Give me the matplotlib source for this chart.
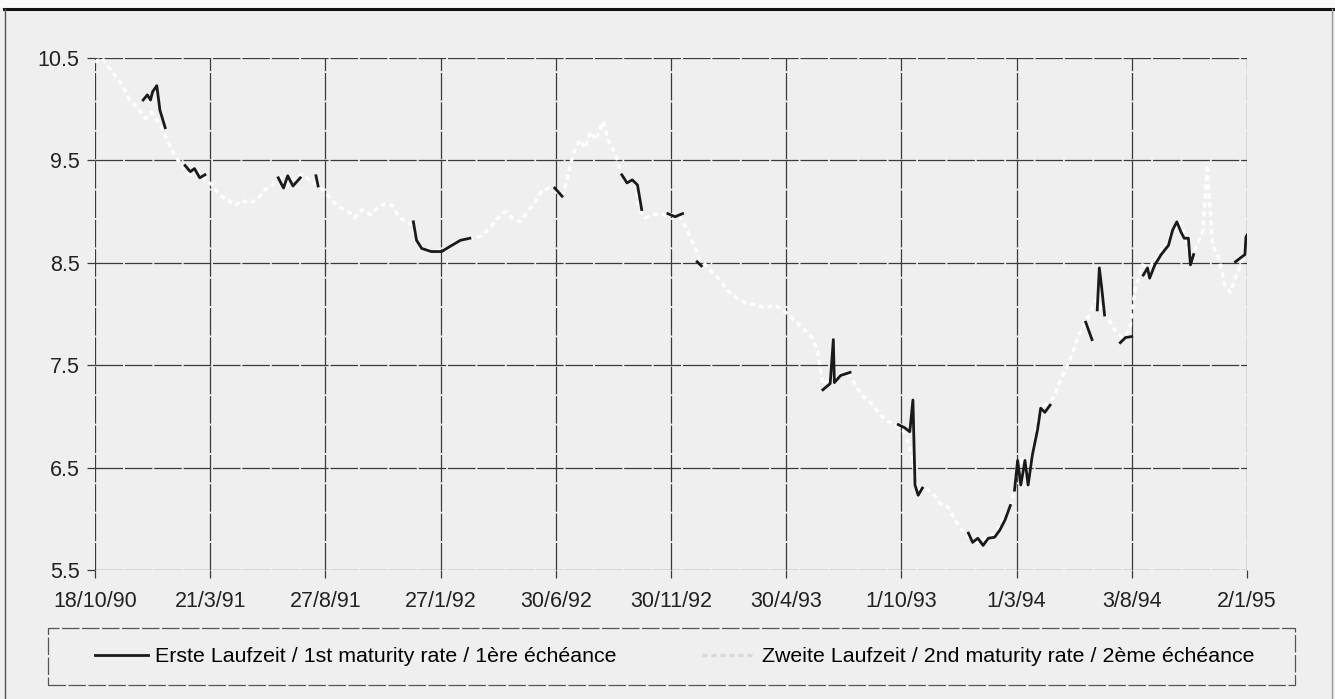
import numpy as np
import matplotlib
matplotlib.use("Agg")
import matplotlib.pyplot as plt
from matplotlib.lines import Line2D
from matplotlib.patches import Rectangle

plt.rcParams["font.family"] = ["Liberation Sans", "DejaVu Sans"]

# x axis: trading-day index from 18/10/90 (0) to 2/1/95 (1100)
tick_days = [0, 110, 220, 330, 440, 550, 660, 770, 880, 990, 1100]
tick_labels = ["18/10/90", "21/3/91", "27/8/91", "27/1/92", "30/6/92", "30/11/92",
               "30/4/93", "1/10/93", "1/3/94", "3/8/94", "2/1/95"]
y_ticks = [5.5, 6.5, 7.5, 8.5, 9.5, 10.5]

# second maturity rate (full series)
day_2nd = [0, 7, 12, 19, 26, 33, 41, 48, 54, 62, 69, 76, 83, 91, 98, 105, 112, 119,
           127, 134, 140, 148, 156, 162, 169, 177, 184, 191, 198, 205, 213, 220, 226,
           234, 242, 248, 255, 263, 270, 277, 284, 289, 296, 303, 308, 315, 325, 334,
           344, 353, 363, 370, 377, 385, 392, 398, 406, 413, 420, 427, 434, 441, 447,
           454, 458, 463, 468, 473, 478, 485, 490, 495, 499, 503, 509, 516, 520, 525,
           532, 540, 547, 554, 561, 566, 572, 578, 583, 589, 597, 604, 612, 621, 630,
           640, 649, 659, 668, 678, 685, 690, 695, 702, 709, 719, 726, 732, 740, 748,
           755, 764, 773, 780, 785, 793, 800, 807, 815, 821, 828, 836, 843, 850, 857,
           864, 870, 876, 880, 885, 891, 896, 900, 907, 914, 920, 926, 933, 939, 945,
           951, 956, 962, 967, 974, 981, 988, 993, 1000, 1007, 1015, 1022, 1029, 1035,
           1041, 1046, 1052, 1058, 1062, 1067, 1073, 1079, 1084, 1090, 1095, 1100]
rate_2nd = [10.46, 10.50, 10.42, 10.33, 10.24, 10.09, 10.01, 9.91, 9.97, 9.85, 9.70,
            9.55, 9.45, 9.36, 9.39, 9.31, 9.26, 9.16, 9.11, 9.06, 9.11, 9.08, 9.13,
            9.21, 9.26, 9.33, 9.26, 9.33, 9.36, 9.31, 9.26, 9.19, 9.11, 9.04, 9.00,
            8.94, 9.02, 8.97, 9.04, 9.08, 9.06, 8.97, 8.90, 8.87, 8.67, 8.63, 8.61,
            8.63, 8.70, 8.74, 8.74, 8.77, 8.84, 8.94, 9.00, 8.94, 8.90, 9.00, 9.09,
            9.21, 9.23, 9.19, 9.16, 9.46, 9.60, 9.70, 9.62, 9.78, 9.70, 9.88, 9.70,
            9.60, 9.50, 9.36, 9.29, 9.26, 9.02, 8.94, 8.97, 8.98, 8.96, 8.98, 8.92,
            8.80, 8.67, 8.53, 8.48, 8.41, 8.33, 8.23, 8.16, 8.11, 8.09, 8.06, 8.09,
            8.02, 7.94, 7.84, 7.77, 7.63, 7.31, 7.38, 7.40, 7.43, 7.31, 7.21, 7.14,
            7.04, 6.96, 6.92, 6.85, 6.62, 6.28, 6.30, 6.25, 6.15, 6.11, 5.99, 5.89,
            5.81, 5.77, 5.81, 5.84, 5.94, 6.04, 6.18, 6.48, 6.57, 6.43, 6.67, 6.96,
            7.11, 7.16, 7.31, 7.45, 7.60, 7.79, 7.89, 8.04, 8.14, 8.04, 7.96, 7.84,
            7.77, 7.84, 8.23, 8.48, 8.45, 8.58, 8.67, 8.80, 8.90, 8.77, 8.51, 8.67,
            8.82, 9.46, 8.67, 8.55, 8.28, 8.21, 8.38, 8.51, 8.58]

# first maturity rate, only the stretches where it departs from the second
nan = np.nan
day_1st = [46, 50, 53, 55, 59, 62, 67, nan,
           86, 91, 95, 100, 105, nan,
           175, 180, 184, 189, 196, nan,
           211, 213, nan,
           304, 307, 312, 321, 331, 339, 349, 358, nan,
           439, 446, nan,
           503, 508, 513, 518, 522, nan,
           547, 554, 561, nan,
           575, 579, nan,
           695, 702, 705, 706, 712, 721, nan,
           767, 773, 778, 781, 783, 786, 790, nan,
           834, 838, 843, 848, 853, 859, 864, 869, 874, nan,
           878, 881, 884, 888, 891, 895, 900, 903, 907, 912, nan,
           946, 952, nan,
           957, 959, 961, 964, nan,
           979, 984, 990, nan,
           1001, 1005, 1007, 1012, 1018, 1025, 1029, 1033, 1037, 1040, 1044, 1046, 1049, nan,
           1089, 1094, 1098, 1099, 1100]
rate_1st = [10.09, 10.14, 10.09, 10.17, 10.23, 9.99, 9.82, nan,
            9.45, 9.39, 9.42, 9.33, 9.36, nan,
            9.33, 9.23, 9.35, 9.25, 9.33, nan,
            9.35, 9.25, nan,
            8.90, 8.72, 8.64, 8.61, 8.61, 8.66, 8.72, 8.74, nan,
            9.23, 9.15, nan,
            9.36, 9.28, 9.31, 9.26, 9.02, nan,
            8.98, 8.95, 8.98, nan,
            8.51, 8.47, nan,
            7.26, 7.32, 7.75, 7.33, 7.40, 7.43, nan,
            6.92, 6.89, 6.85, 7.16, 6.33, 6.23, 6.30, nan,
            5.86, 5.77, 5.81, 5.74, 5.81, 5.82, 5.89, 5.99, 6.13, nan,
            6.28, 6.57, 6.33, 6.57, 6.33, 6.62, 6.87, 7.08, 7.04, 7.11, nan,
            7.92, 7.75, nan,
            8.04, 8.45, 8.28, 7.99, nan,
            7.72, 7.77, 7.78, nan,
            8.38, 8.45, 8.35, 8.48, 8.58, 8.67, 8.82, 8.90, 8.80, 8.74, 8.74, 8.48, 8.58, nan,
            8.51, 8.55, 8.58, 8.75, 8.77]

label_1st = "Erste Laufzeit / 1st maturity rate / 1ère échéance"
label_2nd = "Zweite Laufzeit / 2nd maturity rate / 2ème échéance"

W, H = 1335, 699
bg = "#efefef"
fig = plt.figure(figsize=(W / 100, H / 100), dpi=100, facecolor=bg)
ax = fig.add_axes([95 / W, 1 - 570 / H, 1152 / W, 512 / H], facecolor=bg)

ax.plot(day_2nd, rate_2nd, color="white", lw=2.4, ls=(0, (1.5, 1.2)),
        solid_capstyle="round", label=label_2nd, zorder=3)
ax.plot(day_1st, rate_1st, color="#1a1a1a", lw=2.0, label=label_1st, zorder=4)

ax.set_xlim(0, 1100)
ax.set_ylim(5.5, 10.5)
ax.set_xticks(tick_days)
ax.set_xticklabels(tick_labels)
ax.set_yticks(y_ticks)
ax.set_yticklabels([f"{v:.1f}" for v in y_ticks])
ax.tick_params(axis="both", labelsize=15.5, colors="#3a3a3a", labelcolor="#222222",
               length=6, width=0.9)
ax.tick_params(axis="x", pad=9)
ax.tick_params(axis="y", pad=5)
ax.grid(True, color="#3a3a3a", lw=0.9, ls=(0, (22, 1.5)))
for s in ax.spines.values():
    s.set_visible(False)

# legend: two entries in one row inside a framed strip
handles, labels = ax.get_legend_handles_labels()
leg = fig.legend(handles[::-1], labels[::-1], loc="center left",
                 bbox_to_anchor=(95 / W, 1 - 657 / H), ncol=2, fontsize=15.4,
                 frameon=False, handlelength=2.5, handletextpad=0.3,
                 columnspacing=4.0, borderpad=0, borderaxespad=0)
leg.legend_handles[1].set_color("#d8d8d8")
fig.add_artist(Rectangle((48 / W, 1 - 685 / H), 1247 / W, 57 / H, transform=fig.transFigure,
                         fill=False, edgecolor="#555555", lw=0.9, ls=(0, (14, 2))))

# page frame around the figure
fig.add_artist(Rectangle((0, 1 - 8 / H), 1, 8 / H, transform=fig.transFigure,
                         facecolor="#f9f9f9", edgecolor="none"))
fig.add_artist(Line2D([0.003, 1.0], [1 - 9 / H, 1 - 9 / H], color="#111111", lw=2.2))
fig.add_artist(Line2D([0.004, 0.004], [0, 1 - 9 / H], color="#555555", lw=1.0))
fig.add_artist(Line2D([0.998, 0.998], [0, 1 - 9 / H], color="#999999", lw=1.0))

fig.savefig("out.png", dpi=100, facecolor=bg)
